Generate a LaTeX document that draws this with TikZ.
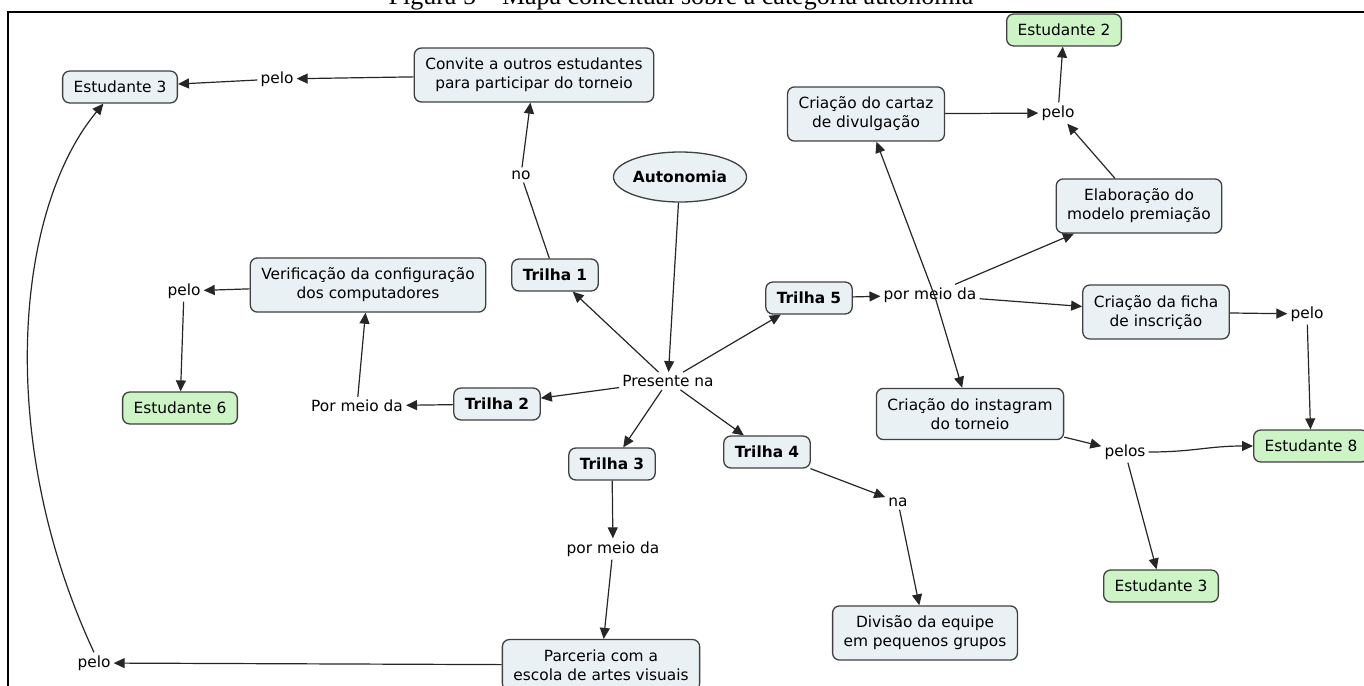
\documentclass[tikz,border=0pt]{standalone}
\usepackage{fontspec}
\setmainfont{DejaVu Sans}
\newfontfamily\captionserif{Liberation Serif}
\usetikzlibrary{arrows.meta,shapes.geometric}
\definecolor{conceptfill}{RGB}{234,241,245}
\definecolor{studentfill}{RGB}{205,244,196}
\definecolor{boxedge}{RGB}{64,64,64}
\begin{document}
\begin{tikzpicture}[x=1pt,y=-1pt,
  every node/.style={font=\fontsize{15.4}{19}\selectfont},
  concept/.style={draw=boxedge, line width=1.3pt, rounded corners=7pt, fill=conceptfill,
    align=center, inner xsep=11pt, inner ysep=10pt},
  student/.style={concept, fill=studentfill},
  trail/.style={concept, font=\fontsize{15.4}{19}\selectfont\bfseries},
  linkphrase/.style={inner sep=3pt},
  conn/.style={line width=1.2pt, draw=black!85},
  arrowconn/.style={conn, -{Triangle[length=11pt,width=10pt]}},
]
\useasboundingbox (0,0) rectangle (1364,685);
\clip (0,0) rectangle (1364,685);

% caption and frame
\node[anchor=base, font=\captionserif\fontsize{26}{30}\selectfont, inner sep=0pt] (caption)
  at (681,5) {Figura 5 – Mapa conceitual sobre a categoria autonomia};
\draw[line width=2pt] (1370,12) -- (8,12) -- (8,690);

% concepts and linking phrases
\node[concept] (est3a) at (120,87) {Estudante 3};
\node[linkphrase] (pelo1) at (277,79) {pelo};
\node[concept] (convite) at (534,75) {Convite a outros estudantes\\para participar do torneio};
\node[linkphrase] (no) at (521,175) {no};
\node[ellipse, draw=boxedge, line width=1.3pt, fill=conceptfill, minimum width=118pt,
  minimum height=50pt, inner sep=0pt, font=\fontsize{15.4}{19}\selectfont\bfseries] (auto)
  at (680,177) {Autonomia};
\node[student] (est2) at (1064,30) {Estudante 2};
\node[concept] (cartaz) at (866,114) {Criação do cartaz\\de divulgação};
\node[linkphrase] (pelo2) at (1058,113) {pelo};
\node[concept] (elab) at (1139,206) {Elaboração do\\modelo premiação};
\node[trail] (t1) at (555,275) {Trilha 1};
\node[concept] (verif) at (368,285) {Verificação da configuração\\dos computadores};
\node[linkphrase] (pelo3) at (184,291) {pelo};
\node[trail] (t5) at (809,298) {Trilha 5};
\node[linkphrase] (pmd5) at (930,295) {por meio da};
\coordinate (hub5) at (935,297);
\node[concept] (ficha) at (1156,312) {Criação da ficha\\de inscrição};
\node[linkphrase] (pelo4) at (1307,314) {pelo};
\node[linkphrase] (pres) at (668,381) {Presente na};
\node[trail] (t2) at (497,404) {Trilha 2};
\node[linkphrase] (pmd2) at (357,406) {Por meio da};
\node[student] (est6) at (180,408) {Estudante 6};
\node[concept] (insta) at (970,414) {Criação do instagram\\do torneio};
\node[linkphrase] (pelos) at (1125,452) {pelos};
\node[student] (est8) at (1311,446) {Estudante 8};
\node[trail] (t3) at (612,464) {Trilha 3};
\node[trail] (t4) at (767,452) {Trilha 4};
\node[linkphrase] (na) at (898,502) {na};
\node[linkphrase] (pmd3) at (613,549) {por meio da};
\node[student] (est3b) at (1161,586) {Estudante 3};
\node[concept] (divisao) at (925,633) {Divisão da equipe\\em pequenos grupos};
\node[concept] (parceria) at (601,665) {Parceria com a\\escola de artes visuais};
\node[linkphrase] (pelo5) at (94,663) {pelo};

% connectors
\draw[arrowconn] (convite) -- (pelo1);
\draw[arrowconn] (pelo1) -- (est3a);
\draw[conn] (t1) -- (no);
\draw[arrowconn] (no) -- (convite);
\draw[arrowconn] (auto) -- (pres);
\foreach \t in {t1,t2,t3,t4,t5} \draw[arrowconn] (pres) -- (\t);
\draw[arrowconn] (t2) -- (pmd2);
\draw[arrowconn] (pmd2) -- (verif);
\draw[arrowconn] (verif) -- (pelo3);
\draw[arrowconn] (pelo3) -- (est6);
\draw[arrowconn] (t3) -- (pmd3);
\draw[arrowconn] (pmd3) -- (parceria);
\draw[arrowconn] (parceria) -- (pelo5);
\draw[arrowconn] (pelo5.north) .. controls (-5,440) and (15,210) .. (est3a.225);
\draw[arrowconn] (t4) -- (na);
\draw[arrowconn] (na) -- (divisao);
\draw[arrowconn] (t5) -- (pmd5);
\draw[arrowconn] (hub5) -- (cartaz);
\draw[arrowconn] (hub5) -- (insta);
\draw[arrowconn] (pmd5) -- (elab);
\draw[arrowconn] (pmd5) -- (ficha);
\draw[arrowconn] (cartaz) -- (pelo2);
\draw[arrowconn] (elab) -- (pelo2);
\draw[arrowconn] (pelo2) -- (est2);
\draw[arrowconn] (ficha) -- (pelo4);
\draw[arrowconn] (pelo4) -- (est8);
\draw[arrowconn] (insta) -- (pelos);
\draw[arrowconn] (pelos.east) .. controls +(45,0) and +(-45,0) .. (est8.west);
\draw[arrowconn] (pelos) -- (est3b);
\end{tikzpicture}
\end{document}
